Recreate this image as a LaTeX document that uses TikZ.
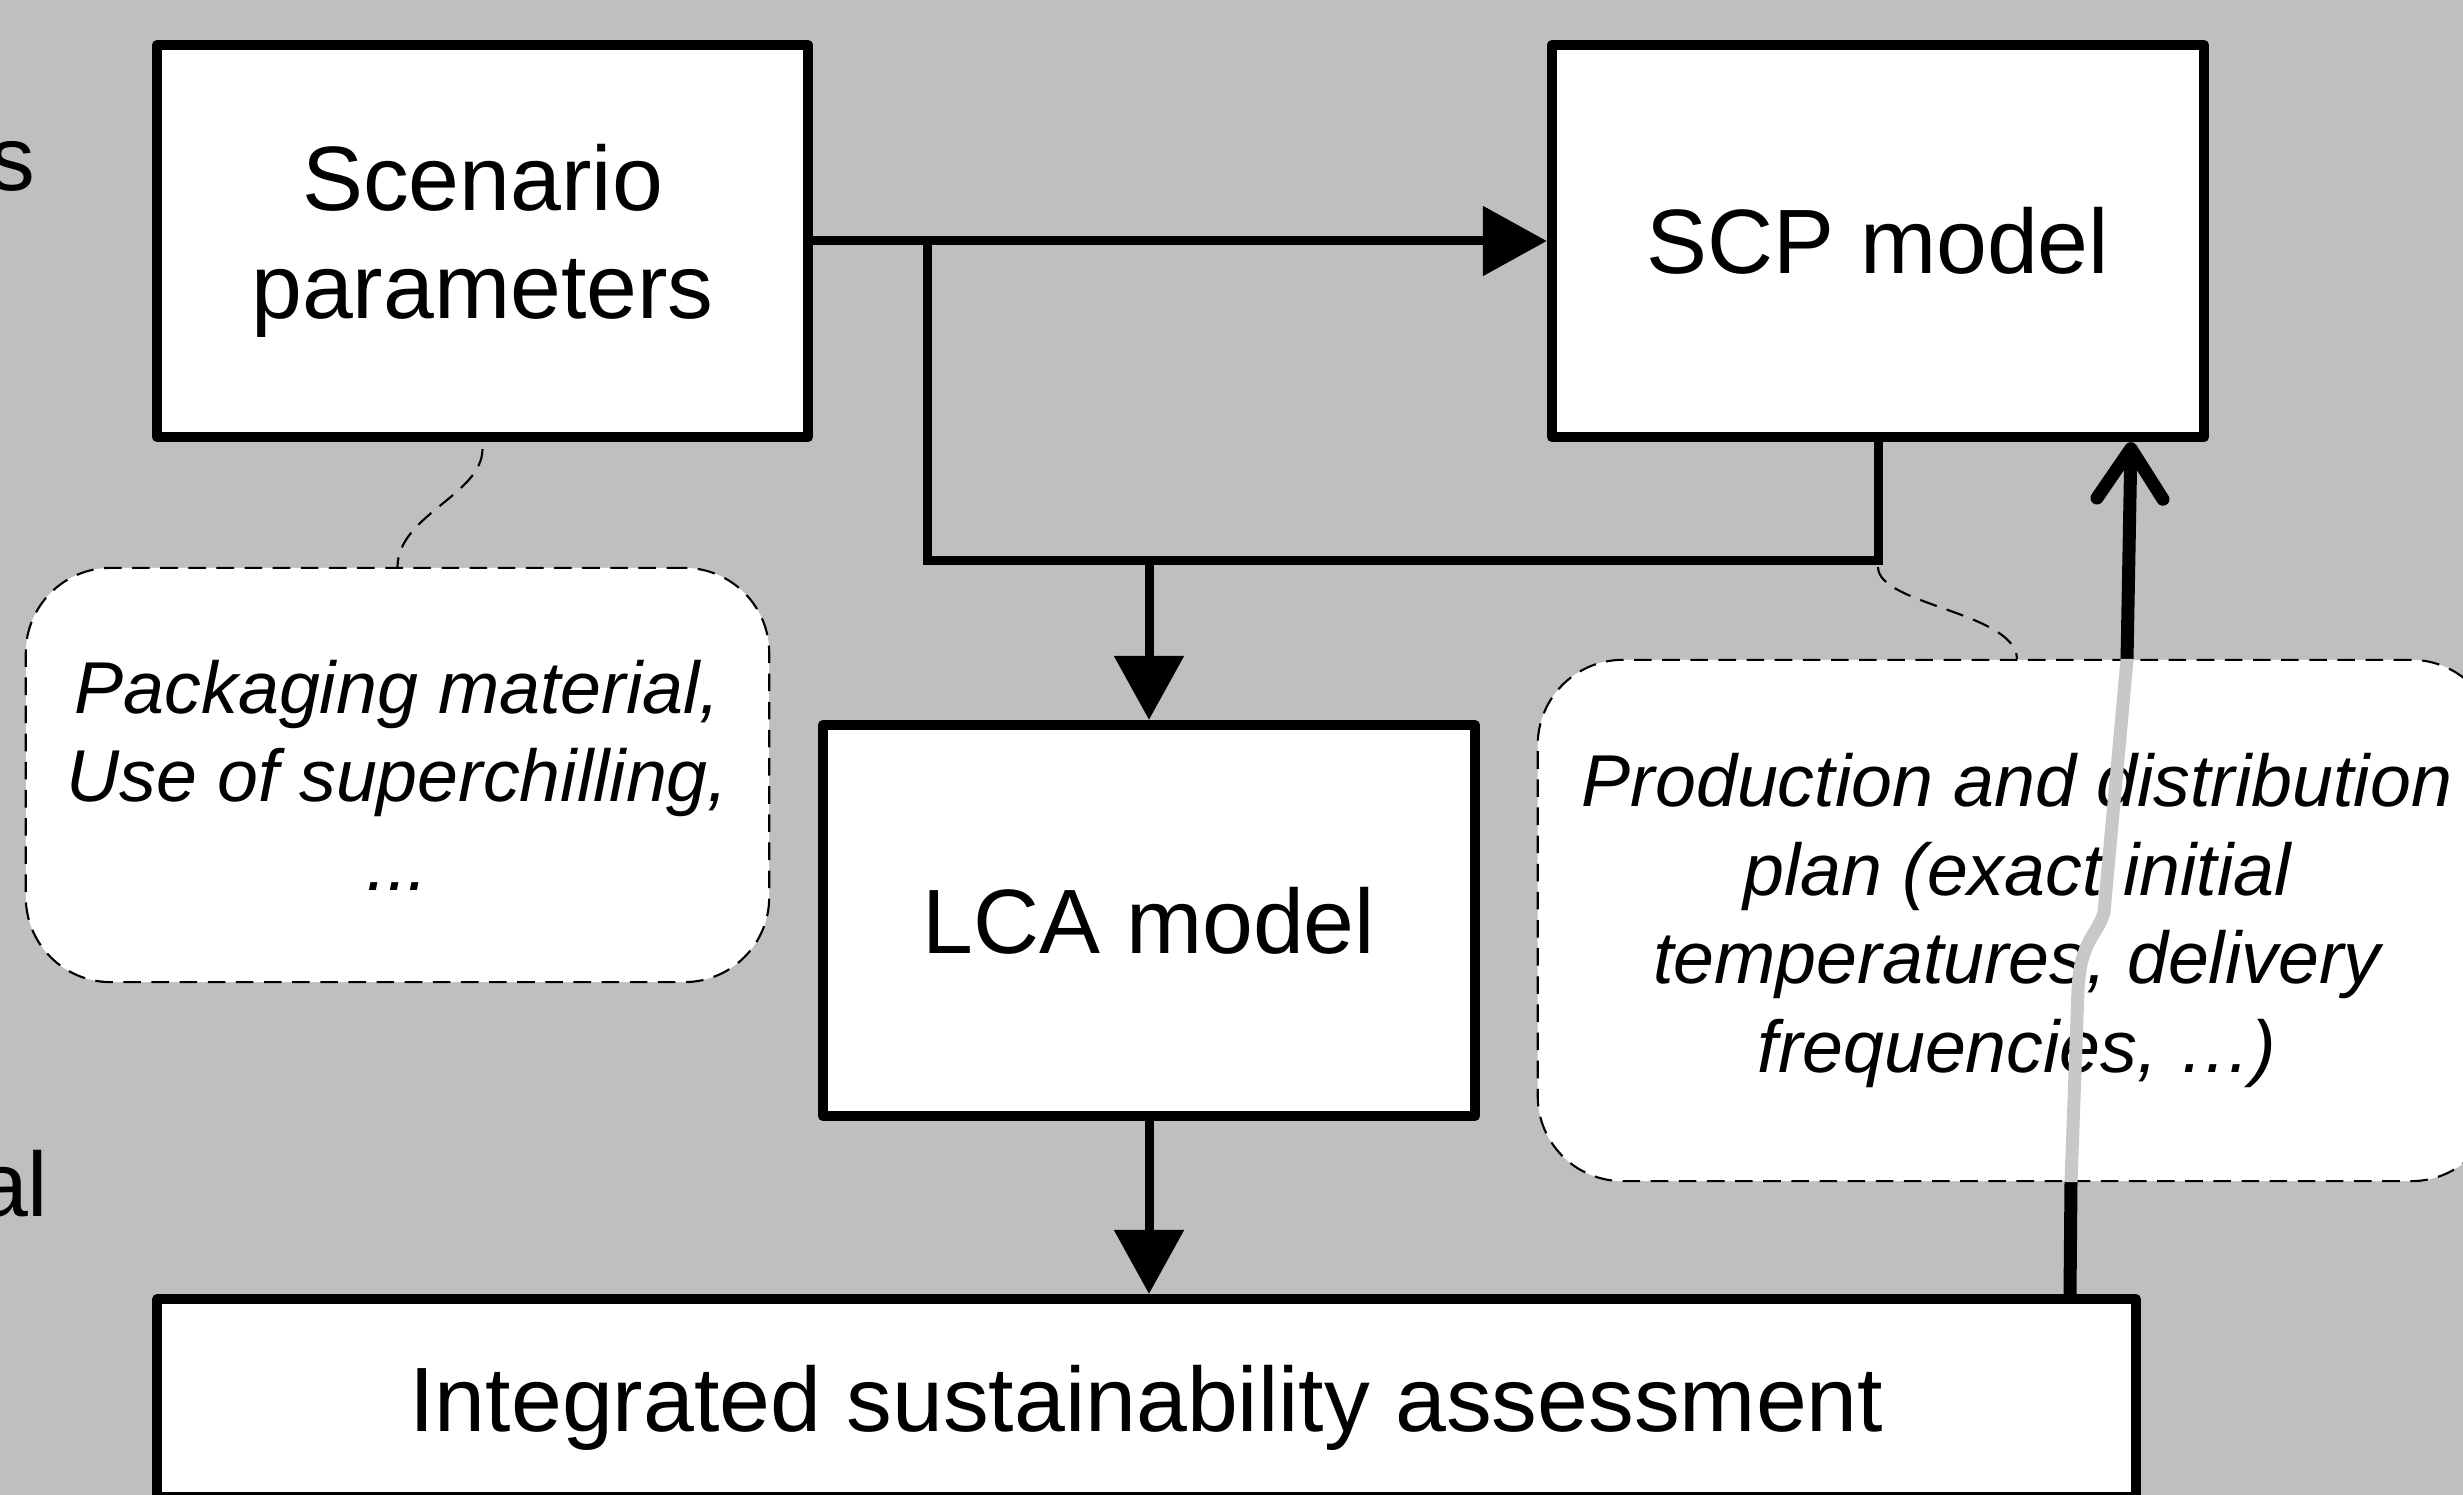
\documentclass[tikz,border=0pt]{standalone}
\usepackage{fontspec}
\setmainfont{Liberation Sans}
\usetikzlibrary{arrows.meta}
\definecolor{bg}{RGB}{191,191,191}
\definecolor{ghost}{RGB}{200,200,200}
\begin{document}
\begin{tikzpicture}[x=0.01cm,y=-0.01cm,
 box/.style={draw=black, fill=white, line width=0.1cm, line join=round, inner sep=0pt, align=center, font=\fontsize{26pt}{30.7pt}\selectfont},
 callout/.style={draw=black, fill=white, dash pattern=on 5pt off 3pt, line width=0.6pt, rounded corners=0.85cm, inner sep=0pt, align=center, font=\fontsize{20.9pt}{25.2pt}\selectfont\itshape},
 conn/.style={line width=0.09cm},
 tri/.style={-{Triangle[length=0.64cm,width=0.68cm]}},
 tail/.style={line width=0.6pt, dash pattern=on 5pt off 3pt},
 uparrow/.style={line width=0.13cm, line join=round},
 cuttext/.style={font=\fontsize{26pt}{30.7pt}\selectfont, inner sep=0pt}]

\fill[bg] (0,0) rectangle (2463,1495);
\useasboundingbox (0,0) rectangle (2463,1495);

% partial words cut at the left edge
\node[cuttext, anchor=base east] (cs) at (36,191) {s};
\node[cuttext, anchor=base east] (cal) at (49,1216) {al};

% boxes
\node[box, minimum width=6.51cm, minimum height=3.92cm] (sp) at (482.5,241) {Scenario\\parameters};
\node[box, minimum width=6.52cm, minimum height=3.92cm] (scp) at (1878,241) {SCP model};
\node[box, minimum width=6.52cm, minimum height=3.91cm] (lca) at (1149,920.5) {LCA model};
\node[box, minimum width=19.77cm, minimum height=1.98cm, text depth=0pt] (isa) at (1146.5,1398) {Integrated sustainability assessment};

% connectors
\draw[conn, tri] (sp.east) -- (scp.west);
\coordinate (j1) at (927,241);
\coordinate (j3) at (scp.south |- 0,561);
\draw[conn] (j1) |- (j3) -- (scp.south);
\draw[conn, tri] (lca.north |- j3) -- (lca.north);
\draw[conn, tri] (lca.south) -- (lca.south |- isa.north);

% feedback arrow
\coordinate (u0) at (isa.north -| 2070,0);
\coordinate (u1) at (scp.south -| 2131,0);
\draw[uparrow, -{Straight Barb[length=0.5cm,width=0.66cm,round]}] (u0) -- (2071,1182) -- (2078,990) .. controls (2080,940) and (2098,935) .. (2104,912) -- (2127,660) -- (u1);

% callouts
\node[callout, minimum width=7.43cm, minimum height=4.14cm] (lc) at (397.5,775) {Packaging material,\\Use of superchilling,\\...};
\node[callout, minimum width=9.58cm, minimum height=5.21cm] (rc) at (2017,920.5) {Production and distribution\\plan (exact initial\\temperatures, delivery\\frequencies, …)};

\begin{scope}
\clip[rounded corners=0.85cm] (rc.south west) rectangle (rc.north east);
\draw[uparrow, ghost] (u0) -- (2071,1182) -- (2078,990) .. controls (2080,940) and (2098,935) .. (2104,912) -- (2127,660) -- (u1);
\end{scope}

% callout tails
\draw[tail] ([yshift=-0.07cm]sp.south) .. controls (482,495) and (398,515) .. (lc.north);
\draw[tail] ([yshift=-0.06cm]j3) .. controls (1878,605) and (2015,612) .. (rc.north);
\end{tikzpicture}
\end{document}
